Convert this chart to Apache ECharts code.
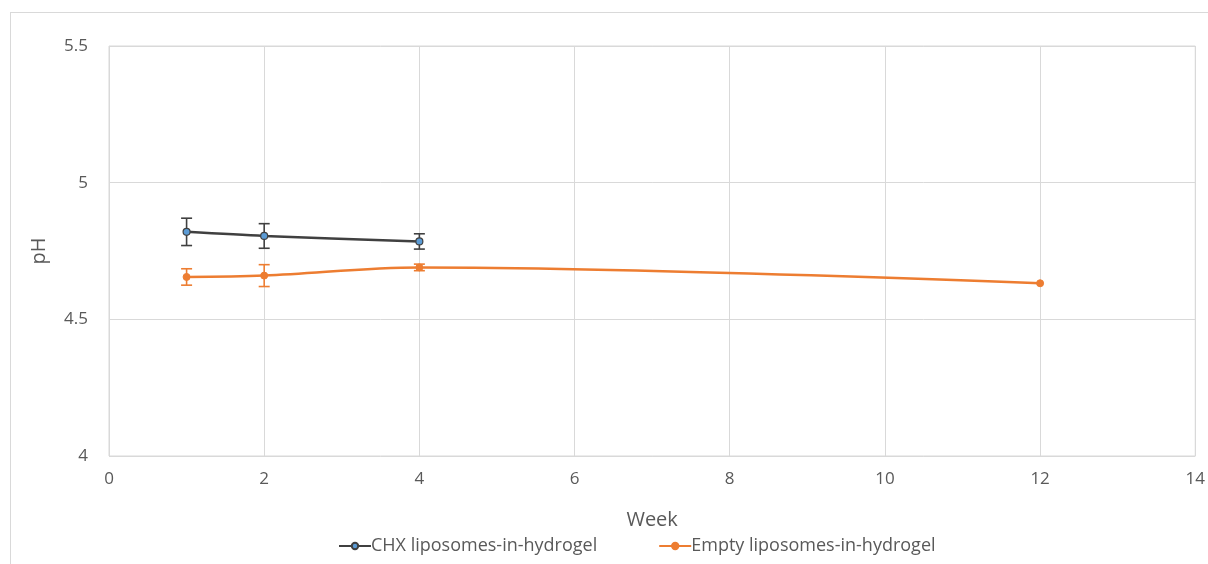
<!DOCTYPE html>
<html>
<head>
<meta charset="utf-8">
<script src="https://cdn.jsdelivr.net/npm/echarts@6/dist/echarts.min.js"></script>
<style>
  html, body { margin: 0; padding: 0; background: #fff; }
  #frame { position: absolute; left: 10px; top: 12px; width: 1210px; height: 570px; border: 1px solid #d9d9d9; box-sizing: border-box; }
  #chart { position: absolute; left: 0; top: 0; width: 1208px; height: 564px; }
</style>
</head>
<body>
<div id="frame"></div>
<div id="chart"></div>
<script>
// pH of the hydrogels over the storage period (mean ± SD)
const chxWeeks = [1, 2, 4];
const chxPH = [4.82, 4.805, 4.785];
const chxSD = [0.05, 0.045, 0.028];

const emptyWeeks = [1, 2, 4, 12];
const emptyPH = [4.655, 4.66, 4.69, 4.632];
const emptySD = [0.03, 0.04, 0.012, 0];

const xTicks = [0, 2, 4, 6, 8, 10, 12, 14];
const yTicks = [4, 4.5, 5, 5.5];

const seriesNames = ['CHX liposomes-in-hydrogel', 'Empty liposomes-in-hydrogel'];
const FONT = '"Open Sans", "Noto Sans", sans-serif';
const TXT = '#595959';

function pairs(xs, ys) { return xs.map((x, i) => [x, ys[i]]); }
function errRows(xs, ys, sd) { return xs.map((x, i) => [x, ys[i] - sd[i], ys[i] + sd[i]]); }

function errorBar(color) {
  return function (params, api) {
    const lo = api.coord([api.value(0), api.value(1)]);
    const hi = api.coord([api.value(0), api.value(2)]);
    if (Math.abs(lo[1] - hi[1]) < 1) return null;
    const w = 5.5;
    const style = { stroke: color, lineWidth: 1.6 };
    return {
      type: 'group',
      children: [
        { type: 'line', shape: { x1: lo[0], y1: lo[1], x2: hi[0], y2: hi[1] }, style },
        { type: 'line', shape: { x1: lo[0] - w, y1: lo[1], x2: lo[0] + w, y2: lo[1] }, style },
        { type: 'line', shape: { x1: hi[0] - w, y1: hi[1], x2: hi[0] + w, y2: hi[1] }, style }
      ]
    };
  };
}

const chart = echarts.init(document.getElementById('chart'), null, { renderer: 'canvas' });
chart.setOption({
  backgroundColor: 'transparent',
  animation: false,
  grid: { left: 109, right: 12, top: 46, bottom: 108, show: true, borderColor: '#d9d9d9', borderWidth: 1 },
  legend: {
    bottom: 4,
    left: 333,
    itemGap: 61,
    itemWidth: 32,
    itemHeight: 8,
    data: seriesNames,
    textStyle: { fontFamily: FONT, fontSize: 18, color: TXT, padding: [0, 0, 0, -5] }
  },
  xAxis: {
    type: 'value',
    min: xTicks[0], max: xTicks[xTicks.length - 1], interval: 2,
    name: 'Week', nameLocation: 'middle', nameGap: 54,
    nameTextStyle: { fontFamily: FONT, fontSize: 20, color: TXT },
    axisLine: { show: false },
    axisTick: { show: false },
    axisLabel: { fontFamily: FONT, fontSize: 17, color: TXT, margin: 15 },
    splitLine: { show: true, lineStyle: { color: '#d9d9d9', width: 1 } }
  },
  yAxis: {
    type: 'value',
    min: yTicks[0], max: yTicks[yTicks.length - 1], interval: 0.5,
    name: 'pH', nameLocation: 'middle', nameGap: 60, nameRotate: 90,
    nameTextStyle: { fontFamily: FONT, fontSize: 20, color: TXT },
    axisLine: { show: false },
    axisTick: { show: false },
    axisLabel: { fontFamily: FONT, fontSize: 17, color: TXT, margin: 21 },
    splitLine: { show: true, lineStyle: { color: '#d9d9d9', width: 1 } }
  },
  series: [
    {
      name: seriesNames[0],
      type: 'line',
      data: pairs(chxWeeks, chxPH),
      smooth: 0.3,
      symbol: 'circle',
      symbolSize: 7,
      lineStyle: { color: '#404040', width: 2.5 },
      itemStyle: { color: '#5b9bd5', borderColor: '#404040', borderWidth: 1.2 },
      z: 3
    },
    {
      name: seriesNames[1],
      type: 'line',
      data: pairs(emptyWeeks, emptyPH),
      smooth: 0.35,
      symbol: 'circle',
      symbolSize: 7,
      lineStyle: { color: '#ed7d31', width: 2.5 },
      itemStyle: { color: '#ed7d31', borderColor: '#ed7d31', borderWidth: 1 },
      z: 3
    },
    {
      type: 'custom',
      name: 'chx-err',
      data: errRows(chxWeeks, chxPH, chxSD),
      renderItem: errorBar('#404040'),
      encode: { x: 0, y: [1, 2] },
      z: 2,
      silent: true
    },
    {
      type: 'custom',
      name: 'empty-err',
      data: errRows(emptyWeeks, emptyPH, emptySD),
      renderItem: errorBar('#ed7d31'),
      encode: { x: 0, y: [1, 2] },
      z: 2,
      silent: true
    }
  ]
});
</script>
</body>
</html>
